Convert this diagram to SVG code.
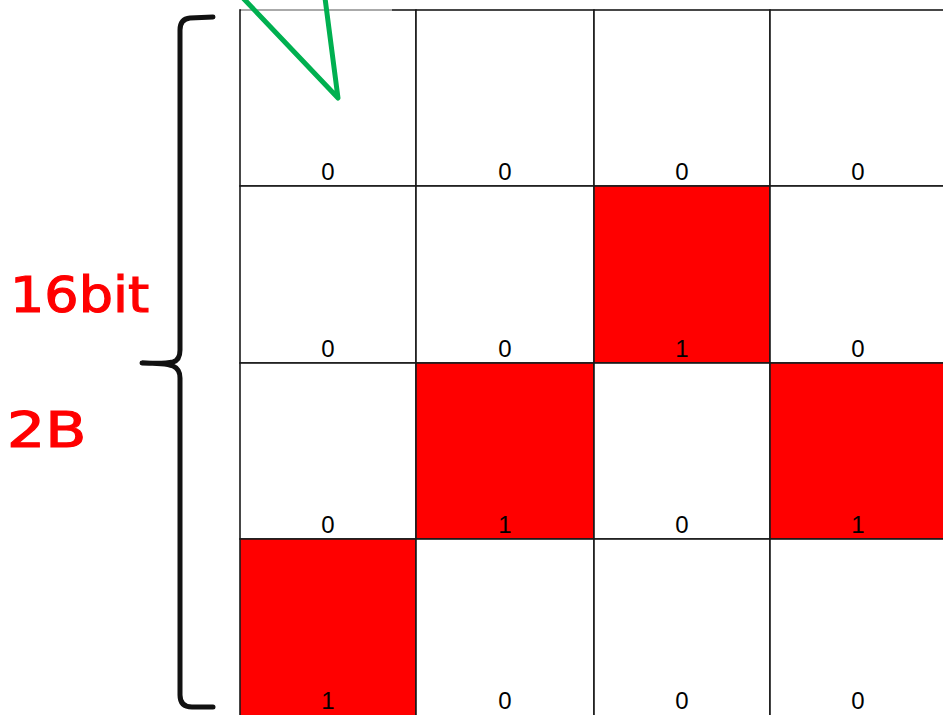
<svg xmlns="http://www.w3.org/2000/svg" width="943" height="715" viewBox="0 0 943 715">
<style>
.cell{fill:#fff;stroke:#1a1a1a;stroke-width:1.6}
.on{fill:#ff0000}
.num{font-family:"Liberation Sans",Arial,sans-serif;font-size:24px;fill:#000;text-anchor:middle}
.lbl{font-family:"DejaVu Sans","Liberation Sans",sans-serif;font-size:50px;fill:#ff0000;stroke:#ff0000;stroke-width:1.2}
.brace{fill:none;stroke:#111;stroke-width:5;stroke-linecap:round;stroke-linejoin:round}
.green{fill:none;stroke:#00b050;stroke-width:5;stroke-linecap:round;stroke-linejoin:round}
</style>
<rect width="943" height="715" fill="#fff"/>
<g id="grid">
<g id="r1c1"><rect class="cell" x="240" y="10" width="176" height="176"/><text class="num" x="328" y="180">0</text></g>
<g id="r1c2"><rect class="cell" x="416" y="10" width="178" height="176"/><text class="num" x="505" y="180">0</text></g>
<g id="r1c3"><rect class="cell" x="594" y="10" width="176" height="176"/><text class="num" x="682" y="180">0</text></g>
<g id="r1c4"><rect class="cell" x="770" y="10" width="180" height="176"/><text class="num" x="858" y="180">0</text></g>
<g id="r2c1"><rect class="cell" x="240" y="186" width="176" height="177"/><text class="num" x="328" y="357">0</text></g>
<g id="r2c2"><rect class="cell" x="416" y="186" width="178" height="177"/><text class="num" x="505" y="357">0</text></g>
<g id="r2c3"><rect class="cell on" x="594" y="186" width="176" height="177"/><text class="num" x="682" y="357">1</text></g>
<g id="r2c4"><rect class="cell" x="770" y="186" width="180" height="177"/><text class="num" x="858" y="357">0</text></g>
<g id="r3c1"><rect class="cell" x="240" y="363" width="176" height="176"/><text class="num" x="328" y="533">0</text></g>
<g id="r3c2"><rect class="cell on" x="416" y="363" width="178" height="176"/><text class="num" x="505" y="533">1</text></g>
<g id="r3c3"><rect class="cell" x="594" y="363" width="176" height="176"/><text class="num" x="682" y="533">0</text></g>
<g id="r3c4"><rect class="cell on" x="770" y="363" width="180" height="176"/><text class="num" x="858" y="533">1</text></g>
<g id="r4c1"><rect class="cell on" x="240" y="539" width="176" height="186"/><text class="num" x="328" y="709">1</text></g>
<g id="r4c2"><rect class="cell" x="416" y="539" width="178" height="186"/><text class="num" x="505" y="709">0</text></g>
<g id="r4c3"><rect class="cell" x="594" y="539" width="176" height="186"/><text class="num" x="682" y="709">0</text></g>
<g id="r4c4"><rect class="cell" x="770" y="539" width="180" height="186"/><text class="num" x="858" y="709">0</text></g>
<line x1="241" y1="10" x2="392" y2="10" stroke="#aaa" stroke-width="2"/>
</g>
<g id="connectors">
<path class="green" d="M243,-2 L338,98 L325,-2"/>
<path id="brace" class="brace" d="M213,17 L190,18 Q180,19 180,30 L180,350 Q180,360 173,362 Q165,364 142,363 Q165,363 173,366 Q180,369 180,378 L180,695 Q180,707 192,707 L213,707"/>
</g>
<g id="labels">
<text class="lbl" transform="translate(10,312) scale(1.08,1)" x="0" y="0">16bit</text>
<text class="lbl" transform="translate(7,447) scale(1.2,1)" x="0" y="0">2B</text>
</g>
</svg>
